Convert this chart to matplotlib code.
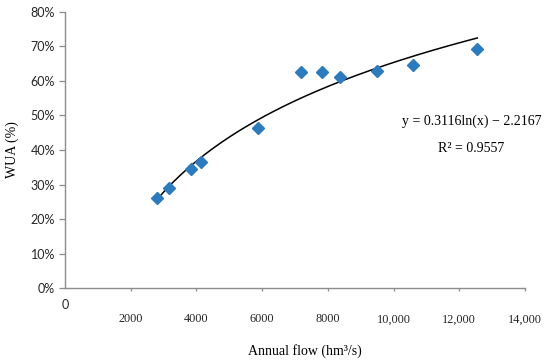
import numpy as np
import matplotlib
matplotlib.use("Agg")
import matplotlib.pyplot as plt
from matplotlib.ticker import PercentFormatter

# Observed points (annual flow in hm3/s, WUA as fraction)
annual_flow = [2790, 3165, 3835, 4130, 5880, 7175, 7815, 8370, 9505, 10580, 12550]
wua = [0.260, 0.289, 0.345, 0.364, 0.464, 0.625, 0.625, 0.612, 0.628, 0.646, 0.692]

# Logarithmic trendline coefficients
fit_a = 0.3116
fit_b = -2.2167
r_squared = 0.9557

x_ticks = [2000, 4000, 6000, 8000, 10000, 12000, 14000]
x_tick_labels = ["2000", "4000", "6000", "8000", "10,000", "12,000", "14,000"]
y_ticks = [0.0, 0.1, 0.2, 0.3, 0.4, 0.5, 0.6, 0.7, 0.8]

serif = "Liberation Serif"
sans = "Lato"
axis_grey = "#8c8c8c"
marker_blue = "#2b7bc0"
text_col = "#262626"

fig = plt.figure(figsize=(5.5, 3.6), dpi=100)
ax = fig.add_axes([0.118, 0.199, 0.8365, 0.7685])

# trendline across the data range
xs = np.linspace(min(annual_flow), max(annual_flow), 200)
ax.plot(xs, fit_a * np.log(xs) + fit_b, color="black", lw=1.1, zorder=2)
ax.plot(annual_flow, wua, linestyle="none", marker="D", ms=5.8,
        color=marker_blue, mec=marker_blue, zorder=3)

ax.set_xlim(0, 14000)
ax.set_ylim(0, 0.8)

ax.set_yticks(y_ticks)
ax.yaxis.set_major_formatter(PercentFormatter(1.0, decimals=0))
ax.set_xticks(x_ticks)
ax.set_xticklabels(x_tick_labels)

for lbl in ax.get_yticklabels():
    lbl.set_fontfamily(sans)
    lbl.set_fontsize(9)
    lbl.set_color(text_col)
for lbl in ax.get_xticklabels():
    lbl.set_fontfamily(serif)
    lbl.set_fontsize(8.8)
    lbl.set_color(text_col)

ax.tick_params(axis="y", direction="out", length=4, width=0.9, color=axis_grey, pad=3)
ax.tick_params(axis="x", direction="out", length=2.5, width=0.9, color=axis_grey, pad=15.5)

# the "0" sits higher than the other x labels
ax.annotate("0", xy=(0, 0), xycoords="data", xytext=(0, -17),
            textcoords="offset pixels", ha="center", va="center",
            fontfamily=sans, fontsize=9, color=text_col)

for side in ["top", "right"]:
    ax.spines[side].set_visible(False)
for side in ["left", "bottom"]:
    ax.spines[side].set_color(axis_grey)
    ax.spines[side].set_linewidth(1.0)

ax.set_xlabel("Annual flow (hm\u00b3/s)", fontfamily=serif, fontsize=10)
ax.xaxis.set_label_coords(0.521, -0.2)
ax.set_ylabel("WUA (%)", fontfamily=serif, fontsize=10)
ax.yaxis.set_label_coords(-0.1, 0.5)

ax.text(0.884, 0.604, "y = 0.3116ln(x) \u2212 2.2167", transform=ax.transAxes,
        ha="center", va="center", fontfamily=serif, fontsize=10)
ax.text(0.884, 0.505, "R\u00b2 = %.4f" % r_squared, transform=ax.transAxes,
        ha="center", va="center", fontfamily=serif, fontsize=10)

fig.savefig("out.png", dpi=100)
